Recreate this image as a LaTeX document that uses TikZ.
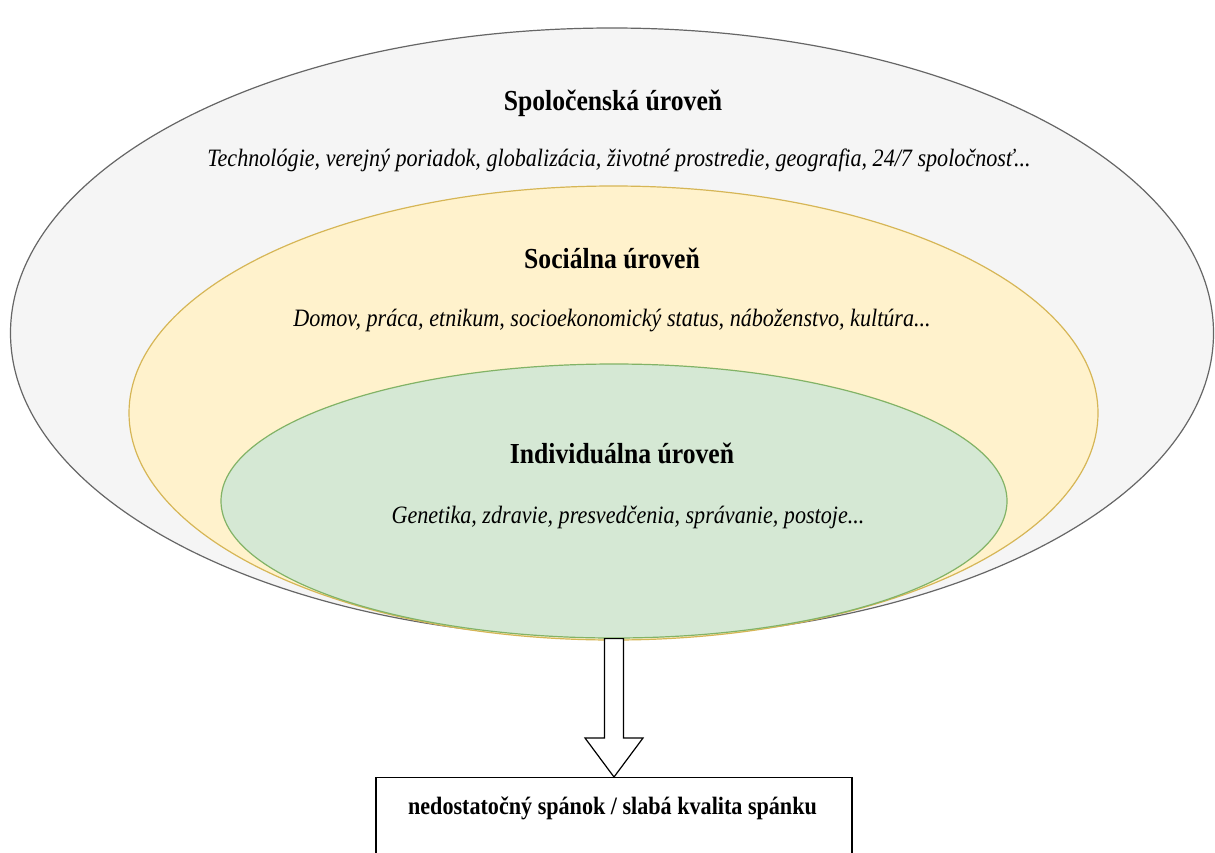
\documentclass[tikz,border=0pt]{standalone}
\usepackage{fontspec}
\usepackage{graphicx}
\setmainfont{Liberation Serif}
\usetikzlibrary{shapes.geometric,calc}
\definecolor{outerfill}{HTML}{F5F5F5}
\definecolor{outerline}{HTML}{666666}
\definecolor{midfill}{HTML}{FFF2CC}
\definecolor{midline}{HTML}{D6B656}
\definecolor{innerfill}{HTML}{D5E8D4}
\definecolor{innerline}{HTML}{82B366}
\newcommand{\narrowtxt}[1]{\scalebox{0.885}[1]{#1}}
\tikzset{
  levelell/.style={ellipse, inner sep=0pt, line width=1.2pt},
  titletxt/.style={anchor=base, inner sep=0pt, font=\fontsize{29}{34}\selectfont\bfseries},
  itemtxt/.style={anchor=base, inner sep=0pt, font=\fontsize{25}{30}\selectfont\itshape},
  resultbox/.style={draw=black, line width=1.2pt, fill=white, inner sep=0pt},
  bigarrow/.style={draw=black, fill=white, line width=1.2pt, line join=miter}
}
\begin{document}
\begin{tikzpicture}[x=1pt,y=-1pt]
\useasboundingbox (0,0) rectangle (1215,852);
\clip (0,0) rectangle (1215,852);
\fill[white] (0,0) rectangle (1215,852);
\node[levelell, fill=outerfill, draw=outerline, minimum width=1203pt, minimum height=610pt] (outer) at (612,333) {};
\node[levelell, fill=midfill, draw=midline, minimum width=969pt, minimum height=454pt] (mid) at (613.5,413) {};
\node[levelell, fill=innerfill, draw=innerline, minimum width=786pt, minimum height=274pt] (inner) at (614,501) {};
\node[titletxt] (t1) at (613,110) {\narrowtxt{Spoločenská úroveň}};
\node[itemtxt] (i1) at (619,166) {\narrowtxt{Technológie, verejný poriadok, globalizácia, životné prostredie, geografia, 24/7 spoločnosť...}};
\node[titletxt] (t2) at (612,268) {\narrowtxt{Sociálna úroveň}};
\node[itemtxt] (i2) at (612,326) {\narrowtxt{Domov, práca, etnikum, socioekonomický status, náboženstvo, kultúra...}};
\node[titletxt] (t3) at (622,463) {\narrowtxt{Individuálna úroveň}};
\node[itemtxt] (i3) at (628,523) {\narrowtxt{Genetika, zdravie, presvedčenia, správanie, postoje...}};
\node[resultbox, minimum width=476pt, minimum height=110pt, anchor=north] (result) at (614,777) {};
\node[titletxt, font=\fontsize{25}{30}\selectfont\bfseries] (rtxt) at (612.5,814) {\narrowtxt{nedostatočný spánok / slabá kvalita spánku}};
\draw[bigarrow] ($(inner.south)+(-9.5,0)$) -- ($(result.north)+(-9.5,-39)$) -- ($(result.north)+(-29,-39)$) -- (result.north) -- ($(result.north)+(29,-39)$) -- ($(result.north)+(9.5,-39)$) -- ($(inner.south)+(9.5,0)$) -- cycle;
\end{tikzpicture}
\end{document}
